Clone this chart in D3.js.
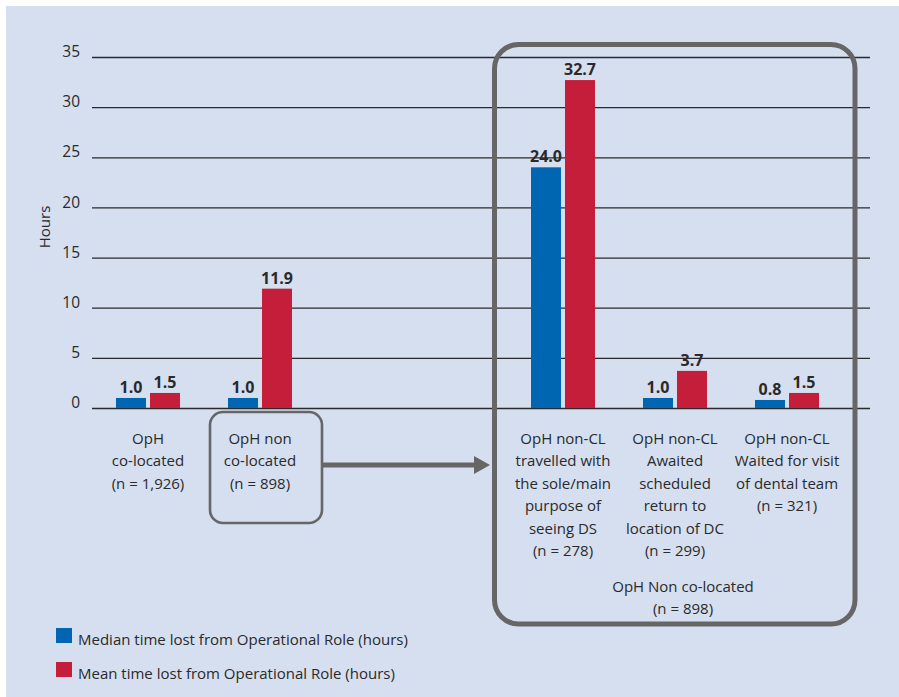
<!DOCTYPE html>
<html>
<head>
<meta charset="utf-8">
<script src="https://cdn.jsdelivr.net/npm/d3@7"></script>
<style>
  html, body { margin: 0; padding: 0; background: #ffffff; }
  svg { display: block; font-family: "Open Sans", "DejaVu Sans", sans-serif; }
</style>
</head>
<body>
<svg id="chart" width="899" height="697"></svg>
<script>
// Time lost from operational role, by dental access group
const categories = ["coloc", "noncoloc", "travelled", "awaited", "waited"];
const categoryLabels = [
  ["OpH", "co-located", "(n = 1,926)"],
  ["OpH non", "co-located", "(n = 898)"],
  ["OpH non-CL", "travelled with", "the sole/main", "purpose of", "seeing DS", "(n = 278)"],
  ["OpH non-CL", "Awaited", "scheduled", "return to", "location of DC", "(n = 299)"],
  ["OpH non-CL", "Waited for visit", "of dental team", "(n = 321)"]
];
const medianHours = [1.0, 1.0, 24.0, 1.0, 0.8];
const meanHours = [1.5, 11.9, 32.7, 3.7, 1.5];
const seriesKeys = ["median", "mean"];
const seriesNames = [
  "Median time lost from Operational Role (hours)",
  "Mean time lost from Operational Role (hours)"
];
const seriesColors = ["#0066b1", "#c41e3a"];
const yTicks = [0, 5, 10, 15, 20, 25, 30, 35];
const groupTitle = ["OpH Non co-located", "(n = 898)"];
const yTitle = "Hours";

const svg = d3.select("#chart");
const W = 899, H = 697;

// panel background
svg.append("rect").attr("x", 6).attr("y", 6).attr("width", W - 6).attr("height", H - 6)
  .attr("fill", "#d5dff0");

const y = d3.scaleLinear().domain([0, 35]).range([408, 57]);
const gridLeft = 92, gridRight = 870;

// two clusters: the stand-alone pair and the boxed breakdown
const leftCats = categories.slice(0, 2);
const rightCats = categories.slice(2);
const pad = 0.4286;
const xLeft = d3.scaleBand().domain(leftCats).range([92, 316]).paddingInner(pad).paddingOuter(pad / 2);
const xRight = d3.scaleBand().domain(rightCats).range([507, 843]).paddingInner(pad).paddingOuter(pad / 2);
const xGroup = c => leftCats.includes(c) ? xLeft(c) : xRight(c);
const bw = xLeft.bandwidth();
const xSub = d3.scaleBand().domain(seriesKeys).range([0, bw]).paddingInner(0.1176);

// gridlines + tick labels
const yAxis = d3.axisLeft(y).tickValues(yTicks).tickSize(-(gridRight - gridLeft)).tickPadding(12)
  .tickFormat(d3.format("d"));
const gy = svg.append("g").attr("transform", `translate(${gridLeft},0)`).call(yAxis);
gy.select(".domain").remove();
gy.selectAll(".tick line").attr("stroke", "#2a2a2a").attr("stroke-width", 1.3);
gy.selectAll(".tick text").attr("font-size", 15.5).attr("fill", "#2a2a2a")
  .attr("font-family", "'Open Sans', sans-serif").attr("dy", "-0.02em");

svg.append("text").attr("transform", `translate(50,227) rotate(-90)`)
  .attr("text-anchor", "middle").attr("font-size", 15).attr("fill", "#2a2a2a").text(yTitle);

// bars
const rows = categories.map((c, i) => ({ cat: c, values: [medianHours[i], meanHours[i]] }));
const groups = svg.append("g").selectAll("g").data(rows).join("g")
  .attr("transform", d => `translate(${xGroup(d.cat)},0)`);
groups.selectAll("rect").data(d => d.values.map((v, k) => ({ key: seriesKeys[k], v, k })))
  .join("rect")
  .attr("x", d => xSub(d.key)).attr("width", xSub.bandwidth())
  .attr("y", d => y(d.v)).attr("height", d => y(0) - y(d.v))
  .attr("fill", d => seriesColors[d.k]);
groups.selectAll("text.val").data(d => d.values.map((v, k) => ({ key: seriesKeys[k], v, k })))
  .join("text").attr("class", "val")
  .attr("x", d => xSub(d.key) + xSub.bandwidth() / 2).attr("y", d => y(d.v) - 5)
  .attr("text-anchor", "middle").attr("font-size", 16).attr("font-weight", "bold")
  .attr("fill", "#2a2a2a").text(d => d3.format(".1f")(d.v));

// category labels
const lineStep = 22.4;
rows.forEach((d, i) => {
  const cx = xGroup(d.cat) + bw / 2;
  const t = svg.append("text").attr("text-anchor", "middle").attr("font-size", 15)
    .attr("fill", "#2a2a2a");
  categoryLabels[i].forEach((line, j) => {
    t.append("tspan").attr("x", cx).attr("y", 444 + j * lineStep).text(line);
  });
});

// title for the boxed breakdown
const boxCx = (xRight.range()[0] + xRight.range()[1]) / 2 + 8;
const gt = svg.append("text").attr("text-anchor", "middle").attr("font-size", 15).attr("fill", "#2a2a2a");
groupTitle.forEach((line, j) => gt.append("tspan").attr("x", boxCx).attr("y", 592 + j * lineStep).text(line));

// outline round the breakdown
const boxStroke = "#666666";
svg.append("rect")
  .attr("x", xRight.range()[0] - 12.5).attr("y", y(35) - 12.5)
  .attr("width", (xRight.range()[1] + 12) - (xRight.range()[0] - 12.5))
  .attr("height", 624 - (y(35) - 12.5)).attr("rx", 24)
  .attr("fill", "none").attr("stroke", boxStroke).attr("stroke-width", 5);

// outline round the non co-located label
const c2 = xLeft("noncoloc") + bw / 2;
svg.append("rect").attr("x", c2 - 50).attr("y", 412).attr("width", 112).attr("height", 111)
  .attr("rx", 13).attr("fill", "none").attr("stroke", boxStroke).attr("stroke-width", 2.6);

// arrow linking the two
const ay = 465, ax0 = c2 + 62, ax1 = xRight.range()[0] - 17;
svg.append("line").attr("x1", ax0).attr("x2", ax1 - 14).attr("y1", ay).attr("y2", ay)
  .attr("stroke", boxStroke).attr("stroke-width", 5);
svg.append("path").attr("d", `M${ax1 - 16},${ay - 9} L${ax1},${ay} L${ax1 - 16},${ay + 9} Z`)
  .attr("fill", boxStroke);

// legend
const lg = svg.append("g");
seriesNames.forEach((name, k) => {
  const ly = 628 + k * 34;
  lg.append("rect").attr("x", 56).attr("y", ly).attr("width", 16).attr("height", 15).attr("fill", seriesColors[k]);
  lg.append("text").attr("x", 78).attr("y", ly + 17).attr("font-size", 15).attr("fill", "#2a2a2a").text(name);
});
</script>
</body>
</html>
